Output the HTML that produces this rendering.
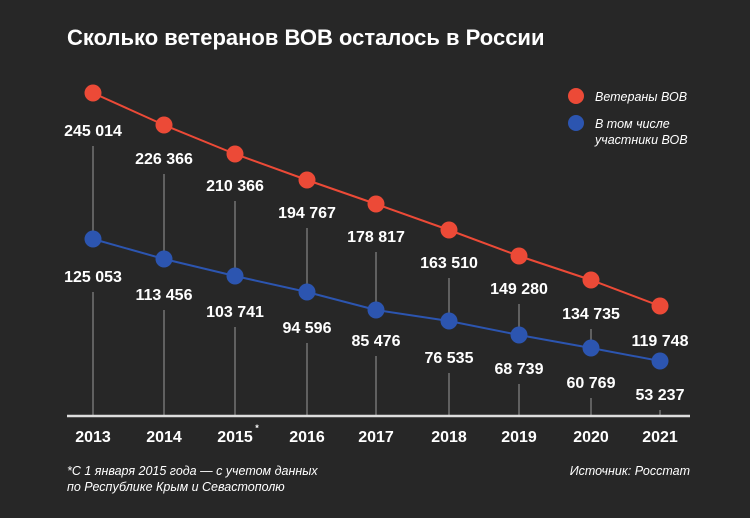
<!DOCTYPE html>
<html><head><meta charset="utf-8"><style>
body{margin:0;background:#272727;}
svg{display:block;font-family:"Liberation Sans",sans-serif;}
</style></head><body>
<svg width="750" height="518" viewBox="0 0 750 518">
<rect width="750" height="518" fill="#272727"/>
<text x="67" y="45" fill="#fff" font-size="22" font-weight="bold">Сколько ветеранов ВОВ осталось в России</text>
<g stroke="#999" stroke-width="1">
<line x1="93" y1="146" x2="93" y2="239"/><line x1="93" y1="292" x2="93" y2="416"/>
<line x1="164" y1="174" x2="164" y2="259"/><line x1="164" y1="310" x2="164" y2="416"/>
<line x1="235" y1="201" x2="235" y2="276"/><line x1="235" y1="327" x2="235" y2="416"/>
<line x1="307" y1="228" x2="307" y2="292"/><line x1="307" y1="343" x2="307" y2="416"/>
<line x1="376" y1="252" x2="376" y2="310"/><line x1="376" y1="356" x2="376" y2="416"/>
<line x1="449" y1="278" x2="449" y2="321"/><line x1="449" y1="373" x2="449" y2="416"/>
<line x1="519" y1="304" x2="519" y2="335"/><line x1="519" y1="384" x2="519" y2="416"/>
<line x1="591" y1="329" x2="591" y2="348"/><line x1="591" y1="398" x2="591" y2="416"/>
<line x1="660" y1="410" x2="660" y2="416"/>
</g>
<g fill="#fff" font-size="16" font-weight="bold" text-anchor="middle">
<text x="93" y="136">245 014</text><text x="93" y="282">125 053</text>
<text x="164" y="164">226 366</text><text x="164" y="300">113 456</text>
<text x="235" y="191">210 366</text><text x="235" y="317">103 741</text>
<text x="307" y="218">194 767</text><text x="307" y="333">94 596</text>
<text x="376" y="242">178 817</text><text x="376" y="346">85 476</text>
<text x="449" y="268">163 510</text><text x="449" y="363">76 535</text>
<text x="519" y="294">149 280</text><text x="519" y="374">68 739</text>
<text x="591" y="319">134 735</text><text x="591" y="388">60 769</text>
<text x="660" y="346">119 748</text><text x="660" y="400">53 237</text>
</g>
<polyline points="93,93 164,125 235,154 307,180 376,204 449,230 519,256 591,280 660,306" fill="none" stroke="#ec4a37" stroke-width="2"/>
<polyline points="93,239 164,259 235,276 307,292 376,310 449,321 519,335 591,348 660,361" fill="none" stroke="#2c55b0" stroke-width="2"/>
<g fill="#ec4a37">
<circle cx="93" cy="93" r="8.5"/><circle cx="164" cy="125" r="8.5"/><circle cx="235" cy="154" r="8.5"/><circle cx="307" cy="180" r="8.5"/><circle cx="376" cy="204" r="8.5"/><circle cx="449" cy="230" r="8.5"/><circle cx="519" cy="256" r="8.5"/><circle cx="591" cy="280" r="8.5"/><circle cx="660" cy="306" r="8.5"/>
</g>
<g fill="#2c55b0">
<circle cx="93" cy="239" r="8.5"/><circle cx="164" cy="259" r="8.5"/><circle cx="235" cy="276" r="8.5"/><circle cx="307" cy="292" r="8.5"/><circle cx="376" cy="310" r="8.5"/><circle cx="449" cy="321" r="8.5"/><circle cx="519" cy="335" r="8.5"/><circle cx="591" cy="348" r="8.5"/><circle cx="660" cy="361" r="8.5"/>
</g>
<line x1="67" y1="416" x2="690" y2="416" stroke="#ddd" stroke-width="2.5"/>
<g fill="#fff" font-size="16" font-weight="bold" text-anchor="middle">
<text x="93" y="442">2013</text><text x="164" y="442">2014</text><text x="235" y="442">2015</text><text x="257" y="431" font-size="9">*</text><text x="307" y="442">2016</text><text x="376" y="442">2017</text><text x="449" y="442">2018</text><text x="519" y="442">2019</text><text x="591" y="442">2020</text><text x="660" y="442">2021</text>
</g>
<g fill="#fff" font-size="12.5" font-style="italic">
<text x="67" y="475">*С 1 января 2015 года — с учетом данных</text>
<text x="67" y="491">по Республике Крым и Севастополю</text>
<text x="690" y="475" text-anchor="end">Источник: Росстат</text>
<text x="595" y="101">Ветераны ВОВ</text>
<text x="595" y="128">В том числе</text>
<text x="595" y="144">участники ВОВ</text>
</g>
<circle cx="576" cy="96" r="8" fill="#ec4a37"/>
<circle cx="576" cy="123" r="8" fill="#2c55b0"/>
</svg>
</body></html>
